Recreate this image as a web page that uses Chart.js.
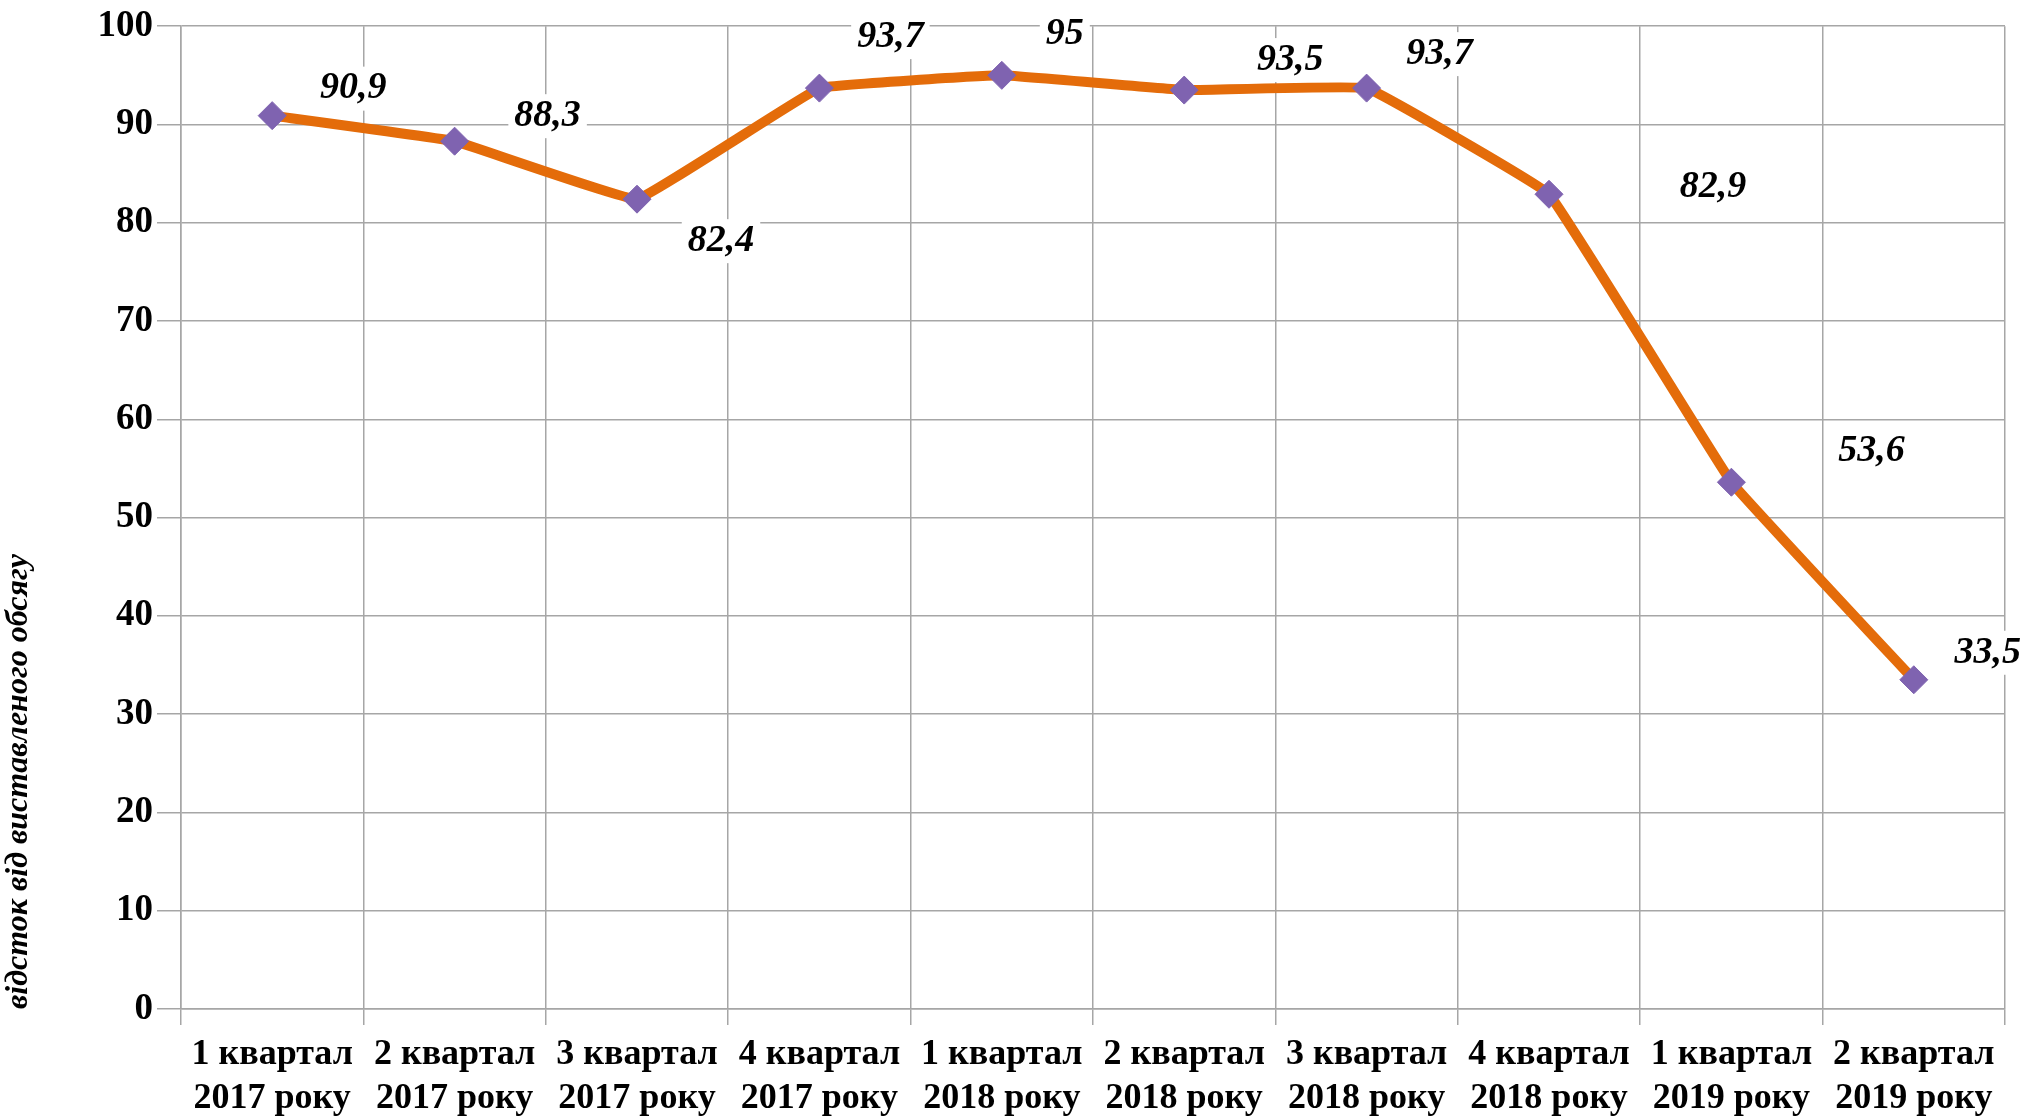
<!DOCTYPE html>
<html>
<head>
<meta charset="utf-8">
<script src="https://cdn.jsdelivr.net/npm/chart.js@4"></script>
<style>
  html, body { margin: 0; padding: 0; background: #fff; }
  #wrap { width: 2024px; height: 1118px; }
</style>
</head>
<body>
<div id="wrap"><canvas id="chart" width="2024" height="1118"></canvas></div>
<script>
// дані графіка
var quarters = [
  ['1 квартал', '2017 року'], ['2 квартал', '2017 року'], ['3 квартал', '2017 року'],
  ['4 квартал', '2017 року'], ['1 квартал', '2018 року'], ['2 квартал', '2018 року'],
  ['3 квартал', '2018 року'], ['4 квартал', '2018 року'], ['1 квартал', '2019 року'],
  ['2 квартал', '2019 року']
];
var percentVals = [90.9, 88.3, 82.4, 93.7, 95, 93.5, 93.7, 82.9, 53.6, 33.5];
var yTicks = [0, 10, 20, 30, 40, 50, 60, 70, 80, 90, 100];

// зсув підписів відносно точок (px)
var labelShift = [[81, -27], [93, -25], [84, 42], [71, -51], [63, -41], [106, -30], [73, -34], [164, -7], [140, -31], [74, -27]];

var serif = '"Liberation Serif", "Times New Roman", serif';

var valueLabels = {
  id: 'valueLabels',
  afterDatasetsDraw: function(chart) {
    var ctx = chart.ctx;
    var meta = chart.getDatasetMeta(0);
    ctx.save();
    ctx.font = 'italic bold 38px ' + serif;
    ctx.textAlign = 'center';
    ctx.textBaseline = 'middle';
    meta.data.forEach(function(pt, i) {
      var txt = String(percentVals[i]).replace('.', ',');
      var x = pt.x + labelShift[i][0];
      var y = pt.y + labelShift[i][1];
      var w = ctx.measureText(txt).width;
      ctx.fillStyle = '#fff';
      ctx.fillRect(x - w / 2 - 6, y - 22, w + 12, 44);
      ctx.fillStyle = '#000';
      ctx.fillText(txt, x, y);
    });
    ctx.restore();
  }
};

var ctx = document.getElementById('chart');
var myChart = new Chart(ctx, {
  type: 'line',
  data: {
    labels: quarters,
    datasets: [{
      data: percentVals,
      borderColor: '#E46C0A',
      borderWidth: 10,
      tension: 0.06,
      pointStyle: 'rectRot',
      pointRadius: 14,
      pointHoverRadius: 14,
      pointBackgroundColor: '#7F63B0',
      pointBorderColor: '#7F63B0',
      pointBorderWidth: 1
    }]
  },
  plugins: [valueLabels],
  options: {
    responsive: false,
    animation: false,
    layout: { padding: { top: 6, right: 19, left: 0, bottom: 0 } },
    plugins: {
      legend: { display: false },
      tooltip: { enabled: false }
    },
    scales: {
      x: {
        offset: true,
        grid: { offset: true, color: '#A6A6A6', lineWidth: 1.5, tickLength: 16 },
        border: { color: '#A6A6A6', width: 1.5 },
        ticks: {
          color: '#000',
          maxRotation: 0,
          autoSkip: false,
          padding: 8,
          font: { family: serif, size: 36, weight: 'bold', lineHeight: 1.22 }
        },
        afterFit: function(scale) { scale.height = 109; }
      },
      y: {
        min: 0,
        max: 100,
        afterBuildTicks: function(scale) {
          scale.ticks = yTicks.map(function(v) { return { value: v }; });
        },
        grid: { color: '#A6A6A6', lineWidth: 1.5, tickLength: 24 },
        border: { color: '#A6A6A6', width: 1.5 },
        ticks: {
          color: '#000',
          padding: 4,
          font: { family: serif, size: 37, weight: 'bold' }
        },
        title: {
          display: true,
          text: 'відсток від виставленого обсягу',
          align: 'start',
          color: '#000',
          padding: { top: 0, bottom: 4 },
          font: { family: serif, size: 32, style: 'italic', weight: 'bold' }
        },
        afterFit: function(scale) { scale.width = 181; }
      }
    }
  }
});
</script>
</body>
</html>
